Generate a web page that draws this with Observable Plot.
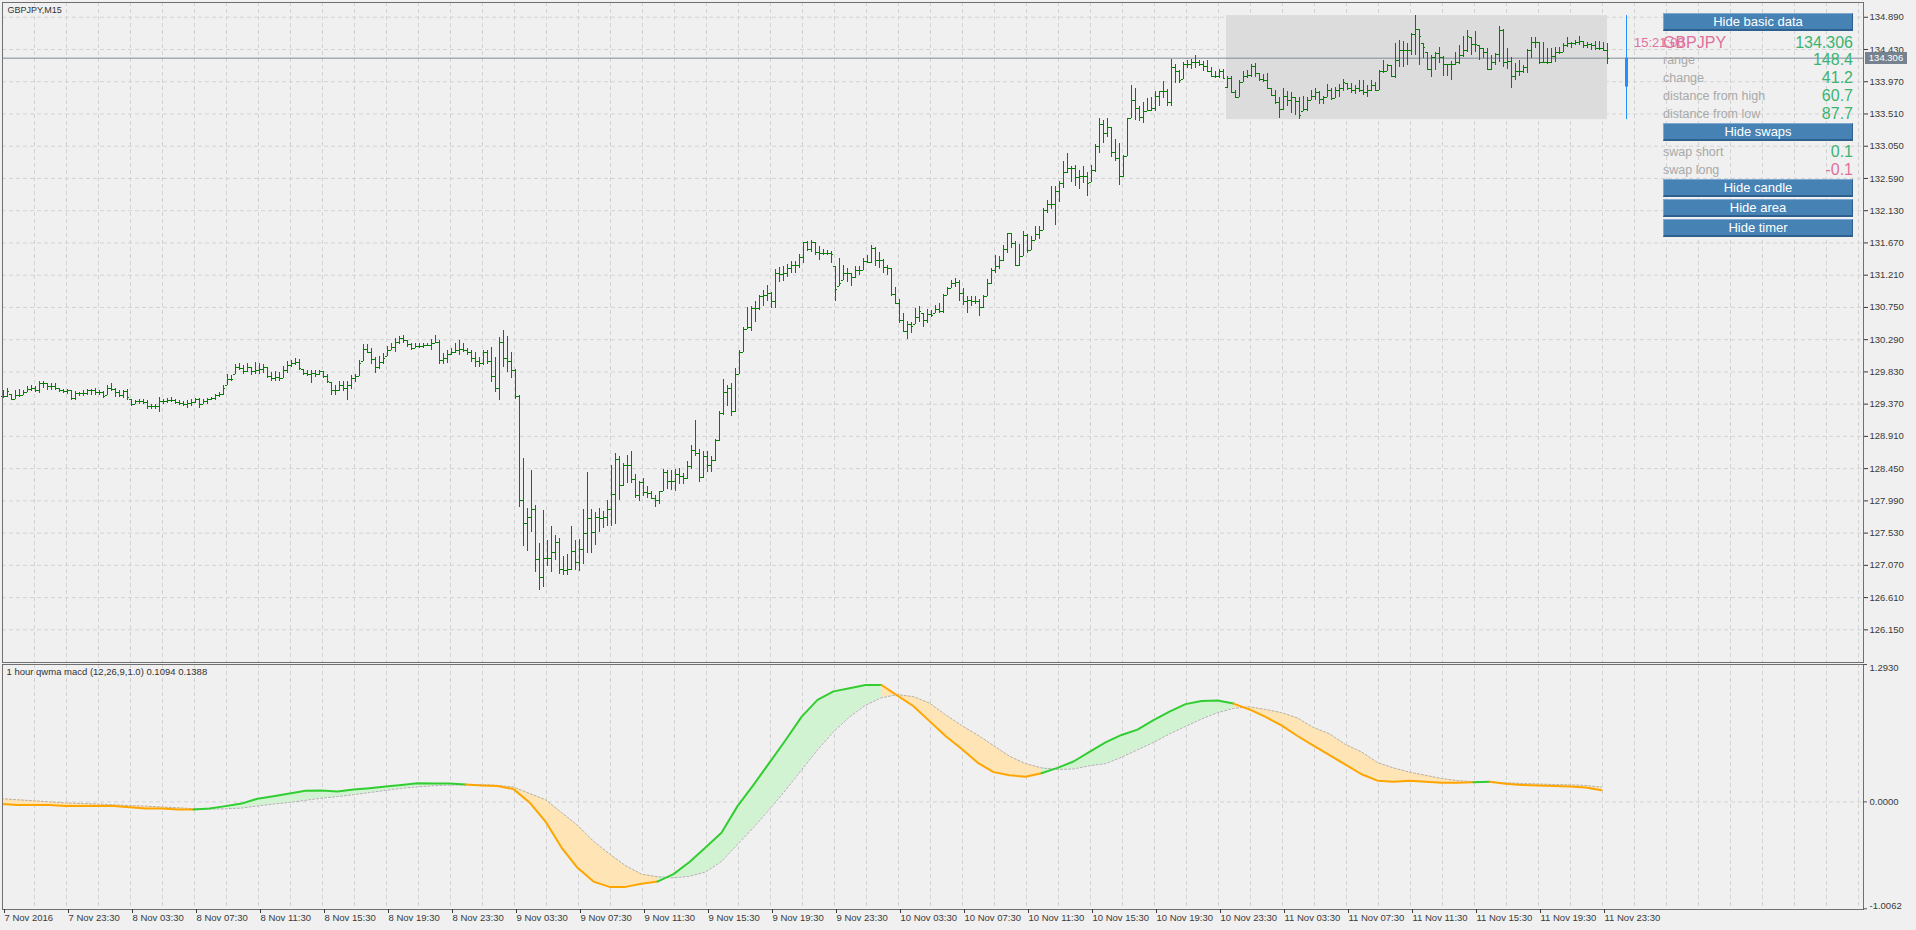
<!DOCTYPE html>
<html>
<head>
<meta charset="utf-8">
<script src="https://cdn.jsdelivr.net/npm/d3@7"></script>
<script src="https://cdn.jsdelivr.net/npm/@observablehq/plot@0.6"></script>
<style>
html,body{margin:0;padding:0;background:#f0f0f0;overflow:hidden;}
#wrap{position:relative;width:1916px;height:930px;font-family:"Liberation Sans",Arial,sans-serif;}
#wrap svg{position:absolute;left:0;top:0;}
.ov{position:absolute;white-space:nowrap;}
.btn{position:absolute;left:1663px;width:190px;height:18px;box-sizing:border-box;background:#4682b4;color:#fff;font-size:13px;line-height:15px;text-align:center;border-top:1px solid #7fa9d3;border-left:1px solid #7fa9d3;border-right:1px solid #2d5f8f;border-bottom:2px solid #2d5f8f;}
</style>
</head>
<body>
<div id="wrap"></div>
<script>
// ---------------- DATA ----------------
const symbol = "GBPJPY";
const timeframe = "M15";
const timerText = "15:21:00";

const opens = [
129.48,129.48,129.51,129.44,129.49,129.49,129.54,129.58,129.59,129.57,
129.66,129.67,129.62,129.62,129.60,129.56,129.55,129.56,129.45,129.52,
129.52,129.52,129.56,129.56,129.54,129.53,129.49,129.60,129.58,129.53,
129.50,129.55,129.44,129.37,129.41,129.41,129.40,129.34,129.33,129.34,
129.41,129.41,129.42,129.42,129.40,129.38,129.36,129.38,129.40,129.43,
129.37,129.41,129.43,129.45,129.49,129.51,129.63,129.72,129.80,129.90,
129.88,129.84,129.90,129.83,129.85,129.86,129.89,129.77,129.73,129.75,
129.74,129.85,129.92,129.95,129.97,129.87,129.81,129.80,129.81,129.80,
129.83,129.76,129.68,129.56,129.56,129.64,129.60,129.64,129.73,129.76,
129.98,130.15,130.11,130.00,129.90,129.97,130.05,130.14,130.18,130.25,
130.30,130.28,130.22,130.17,130.19,130.19,130.21,130.21,130.23,130.25,
129.99,130.02,130.08,130.10,130.13,130.15,130.14,130.11,130.02,129.98,
129.95,130.10,129.98,129.76,129.60,130.25,130.02,129.98,129.85,129.48,
128.00,127.67,127.75,127.87,127.15,126.89,127.17,127.17,127.25,127.40,
127.01,127.00,127.01,127.27,127.11,127.30,127.53,127.74,127.54,127.75,
127.74,127.75,127.86,128.08,128.58,128.21,128.49,128.49,128.30,128.06,
128.25,128.11,128.10,128.02,128.00,128.12,128.40,128.26,128.26,128.37,
128.34,128.31,128.48,128.71,128.66,128.32,128.63,128.50,128.57,128.85,
129.23,129.54,129.59,129.26,129.80,130.10,130.43,130.47,130.73,130.74,
130.91,130.92,130.95,130.83,131.24,131.22,131.24,131.30,131.35,131.35,
131.46,131.67,131.57,131.67,131.54,131.52,131.52,131.52,131.33,131.05,
131.14,131.24,131.23,131.18,131.28,131.28,131.41,131.39,131.59,131.42,
131.42,131.32,131.30,130.94,130.81,130.56,130.41,130.50,130.50,130.61,
130.67,130.57,130.65,130.67,130.72,130.69,130.92,131.02,131.09,131.11,
130.95,130.84,130.85,130.84,130.83,130.75,130.91,131.09,131.28,131.34,
131.42,131.57,131.80,131.66,131.35,131.48,131.78,131.56,131.71,131.79,
131.85,132.14,132.22,132.22,132.41,132.52,132.68,132.73,132.73,132.61,
132.62,132.62,132.53,132.71,133.05,133.36,133.23,133.32,132.96,132.87,
132.62,132.90,133.45,133.70,133.59,133.46,133.55,133.56,133.59,133.76,
133.83,133.83,133.68,134.18,134.11,134.00,134.21,134.22,134.25,134.25,
134.21,134.19,134.12,134.04,134.04,134.12,133.894,134.02,133.81,133.74,
133.96,134.04,134.06,134.19,134.09,134.00,133.99,133.88,133.77,133.68,
133.57,133.76,133.70,133.74,133.69,133.54,133.58,133.70,133.76,133.82,
133.71,133.74,133.84,133.73,133.85,133.87,133.95,133.87,133.85,133.87,
133.85,133.81,133.84,133.92,133.85,134.12,134.12,134.20,134.04,134.28,
134.42,134.42,134.42,134.64,134.71,134.52,134.39,134.15,134.31,134.37,
134.31,134.22,134.22,134.22,134.25,134.34,134.41,134.60,134.50,134.49,
134.45,134.39,134.15,134.25,134.36,134.70,134.25,134.26,134.04,134.11,
134.12,134.17,134.41,134.53,134.53,134.25,134.25,134.25,134.33,134.39,
134.39,134.49,134.51,134.51,134.53,134.55,134.49,134.50,134.49,134.44,
134.44,134.42];

const highs = [
129.57,129.60,129.51,129.57,129.58,129.56,129.62,129.63,129.62,129.69,
129.69,129.67,129.66,129.66,129.60,129.58,129.58,129.57,129.55,129.54,
129.56,129.58,129.58,129.59,129.57,129.55,129.63,129.66,129.60,129.57,
129.57,129.58,129.44,129.42,129.44,129.43,129.42,129.37,129.37,129.46,
129.44,129.45,129.46,129.44,129.42,129.41,129.42,129.43,129.45,129.45,
129.44,129.45,129.47,129.51,129.54,129.63,129.79,129.78,129.93,129.95,
129.92,129.95,129.90,129.97,129.95,129.93,129.90,129.82,129.84,129.82,
129.91,129.98,129.99,130.02,130.00,129.87,129.85,129.85,129.85,129.85,
129.84,129.79,129.68,129.63,129.70,129.70,129.70,129.78,129.79,129.99,
130.22,130.22,130.16,130.04,130.05,130.09,130.19,130.23,130.30,130.34,
130.35,130.28,130.24,130.24,130.23,130.24,130.24,130.29,130.35,130.28,
130.09,130.14,130.16,130.24,130.28,130.23,130.16,130.14,130.11,130.04,
130.14,130.13,130.18,130.03,130.32,130.42,130.33,130.10,129.87,129.50,
128.60,127.88,128.43,127.92,127.38,127.85,127.43,127.63,127.50,127.45,
127.20,127.22,127.62,127.43,127.44,127.86,128.40,127.86,127.82,127.88,
127.84,128.00,128.49,128.66,128.63,128.52,128.64,128.70,128.36,128.26,
128.31,128.19,128.13,128.07,128.13,128.44,128.43,128.42,128.44,128.45,
128.38,128.55,128.78,129.13,128.72,128.69,128.70,128.63,128.86,129.26,
129.72,129.64,129.67,129.88,130.14,130.46,130.75,130.76,130.83,130.92,
130.99,131.06,130.97,131.29,131.32,131.33,131.36,131.40,131.41,131.50,
131.68,131.69,131.70,131.67,131.62,131.58,131.56,131.55,131.33,131.45,
131.35,131.30,131.24,131.33,131.33,131.45,131.49,131.64,131.60,131.54,
131.43,131.35,131.30,131.03,130.86,130.66,130.55,130.54,130.73,130.76,
130.67,130.72,130.71,130.78,130.80,130.94,131.04,131.14,131.16,131.13,
131.02,130.91,130.90,130.91,130.86,130.92,131.15,131.30,131.49,131.48,
131.64,131.81,131.80,131.69,131.65,131.84,131.79,131.76,131.90,131.90,
132.16,132.28,132.47,132.48,132.54,132.83,132.95,132.76,132.78,132.70,
132.76,132.68,132.77,133.08,133.45,133.42,133.45,133.32,133.14,133.09,
132.92,133.45,133.91,133.87,133.62,133.68,133.73,133.75,133.83,133.83,
133.97,133.86,134.29,134.22,134.13,134.24,134.27,134.29,134.34,134.28,
134.26,134.27,134.17,134.12,134.15,134.15,134.04,134.04,133.84,133.99,
134.11,134.13,134.22,134.23,134.09,134.08,134.09,133.88,133.85,133.75,
133.88,133.83,133.82,133.75,133.75,133.76,133.74,133.84,133.87,133.83,
133.76,133.93,133.88,133.89,133.93,134.00,133.95,133.94,133.92,133.99,
133.99,133.92,133.99,133.96,134.13,134.27,134.22,134.20,134.51,134.56,
134.55,134.51,134.66,134.913,134.72,134.52,134.39,134.34,134.39,134.46,
134.33,134.22,134.26,134.39,134.49,134.61,134.70,134.60,134.68,134.49,
134.45,134.44,134.34,134.37,134.76,134.71,134.44,134.32,134.23,134.27,
134.20,134.43,134.60,134.60,134.53,134.53,134.44,134.44,134.46,134.46,
134.52,134.60,134.53,134.56,134.61,134.55,134.53,134.52,134.55,134.55,
134.53,134.52];

const lows = [
129.45,129.46,129.42,129.43,129.47,129.49,129.54,129.55,129.54,129.52,
129.60,129.56,129.56,129.57,129.54,129.52,129.51,129.42,129.42,129.48,
129.48,129.49,129.49,129.50,129.49,129.45,129.49,129.55,129.47,129.46,
129.45,129.42,129.33,129.37,129.37,129.36,129.30,129.30,129.29,129.25,
129.37,129.38,129.39,129.37,129.35,129.33,129.31,129.34,129.38,129.31,
129.37,129.37,129.42,129.42,129.46,129.49,129.63,129.70,129.80,129.85,
129.79,129.82,129.78,129.79,129.80,129.81,129.73,129.69,129.70,129.69,
129.74,129.81,129.90,129.92,129.85,129.78,129.76,129.66,129.75,129.78,
129.73,129.66,129.49,129.49,129.55,129.55,129.42,129.58,129.68,129.76,
129.98,130.09,129.94,129.81,129.87,129.94,130.05,130.14,130.10,130.22,
130.23,130.18,130.13,130.16,130.16,130.17,130.19,130.14,130.23,129.93,
129.93,129.95,130.06,130.09,130.06,130.11,130.06,129.97,129.90,129.90,
129.92,129.94,129.68,129.54,129.42,129.90,129.82,129.74,129.44,127.90,
127.34,127.27,127.54,126.97,126.71,126.75,127.06,126.97,127.14,126.94,
126.92,126.92,126.99,127.00,126.98,127.08,127.24,127.24,127.36,127.54,
127.60,127.62,127.63,127.65,127.99,128.20,128.24,128.24,128.02,127.98,
128.05,128.02,128.01,127.90,127.94,128.12,128.15,128.14,128.12,128.23,
128.23,128.30,128.44,128.63,128.25,128.31,128.39,128.40,128.55,128.83,
129.21,129.34,129.20,129.25,129.80,130.10,130.43,130.41,130.54,130.71,
130.76,130.83,130.74,130.74,131.10,131.12,131.17,131.23,131.24,131.30,
131.38,131.55,131.54,131.49,131.42,131.49,131.49,131.37,130.84,131.05,
131.14,131.10,131.05,131.16,131.21,131.27,131.38,131.38,131.34,131.31,
131.24,131.21,130.91,130.80,130.52,130.39,130.29,130.38,130.50,130.54,
130.46,130.52,130.61,130.67,130.67,130.67,130.92,131.02,131.03,130.83,
130.78,130.67,130.76,130.79,130.62,130.73,130.90,131.07,131.23,131.29,
131.41,131.52,131.59,131.35,131.33,131.48,131.52,131.56,131.71,131.72,
131.85,132.09,132.15,131.92,132.24,132.45,132.66,132.53,132.47,132.43,
132.52,132.33,132.53,132.68,132.95,133.09,133.18,132.89,132.83,132.49,
132.61,132.90,133.45,133.42,133.40,133.37,133.54,133.54,133.54,133.62,
133.73,133.62,133.61,133.95,133.94,134.00,134.16,134.14,134.16,134.19,
134.12,134.10,134.03,134.02,134.02,134.01,133.88,133.80,133.73,133.74,
133.96,134.02,134.03,134.03,133.98,133.96,133.87,133.76,133.65,133.44,
133.56,133.61,133.51,133.49,133.429,133.54,133.55,133.70,133.70,133.65,
133.64,133.74,133.70,133.73,133.75,133.83,133.84,133.80,133.79,133.82,
133.77,133.75,133.83,133.83,133.84,134.09,134.11,134.03,134.02,134.18,
134.18,134.20,134.34,134.34,134.20,134.30,134.13,134.03,134.13,134.23,
134.04,134.04,133.99,134.20,134.22,134.32,134.39,134.34,134.38,134.27,
134.30,134.14,134.13,134.20,134.25,134.18,134.15,133.87,133.99,134.04,
134.09,134.09,134.30,134.44,134.22,134.23,134.22,134.23,134.25,134.36,
134.39,134.46,134.45,134.49,134.49,134.45,134.44,134.42,134.42,134.42,
134.42,134.22];

const closes = [
129.48,129.55,129.44,129.49,129.49,129.53,129.58,129.59,129.57,129.66,
129.67,129.62,129.62,129.60,129.56,129.55,129.56,129.45,129.52,129.52,
129.52,129.56,129.56,129.54,129.53,129.48,129.60,129.58,129.53,129.50,
129.55,129.47,129.37,129.41,129.41,129.40,129.34,129.33,129.34,129.41,
129.41,129.42,129.42,129.40,129.38,129.36,129.38,129.40,129.43,129.36,
129.41,129.43,129.45,129.49,129.51,129.60,129.72,129.72,129.90,129.88,
129.84,129.90,129.83,129.85,129.86,129.89,129.77,129.73,129.75,129.74,
129.85,129.92,129.95,129.97,129.88,129.81,129.80,129.81,129.80,129.83,
129.76,129.70,129.56,129.56,129.64,129.60,129.64,129.73,129.76,129.95,
130.15,130.11,130.00,129.90,129.97,130.02,130.13,130.18,130.25,130.30,
130.28,130.22,130.17,130.19,130.19,130.21,130.21,130.23,130.25,129.99,
130.02,130.08,130.10,130.13,130.15,130.14,130.11,130.02,129.98,129.95,
130.10,129.98,129.76,129.60,130.25,130.02,129.98,129.85,129.48,128.00,
127.67,127.75,127.87,127.15,126.89,127.17,127.17,127.25,127.40,127.01,
127.00,127.01,127.27,127.11,127.30,127.53,127.74,127.54,127.75,127.74,
127.75,127.86,128.08,128.58,128.21,128.49,128.49,128.30,128.06,128.25,
128.11,128.10,128.02,128.00,128.12,128.40,128.26,128.26,128.37,128.34,
128.31,128.48,128.71,128.66,128.32,128.63,128.50,128.57,128.85,129.23,
129.54,129.59,129.26,129.80,130.10,130.43,130.47,130.73,130.74,130.91,
130.92,130.95,130.83,131.24,131.22,131.24,131.30,131.35,131.35,131.46,
131.67,131.57,131.67,131.54,131.52,131.52,131.52,131.51,131.00,131.09,
131.24,131.23,131.18,131.28,131.28,131.41,131.39,131.59,131.42,131.42,
131.32,131.30,130.94,130.81,130.56,130.41,130.50,130.48,130.61,130.69,
130.57,130.65,130.64,130.72,130.69,130.92,131.02,131.09,131.11,130.95,
130.84,130.85,130.84,130.83,130.75,130.91,131.09,131.28,131.34,131.42,
131.57,131.80,131.66,131.35,131.47,131.78,131.56,131.71,131.79,131.85,
132.14,132.22,132.22,132.41,132.52,132.68,132.73,132.73,132.61,132.62,
132.62,132.52,132.71,133.05,133.36,133.23,133.32,132.96,132.87,132.62,
132.90,133.44,133.70,133.59,133.46,133.55,133.56,133.59,133.76,133.83,
133.83,133.68,134.18,134.11,133.99,134.21,134.22,134.25,134.25,134.21,
134.19,134.12,134.04,134.04,134.12,134.01,134.02,133.81,133.74,133.96,
134.04,134.06,134.19,134.09,134.00,133.99,133.88,133.77,133.68,133.57,
133.76,133.70,133.74,133.69,133.49,133.58,133.70,133.76,133.82,133.71,
133.74,133.84,133.73,133.85,133.87,133.96,133.87,133.85,133.87,133.85,
133.81,133.84,133.92,133.85,134.12,134.12,134.20,134.04,134.28,134.42,
134.42,134.42,134.64,134.71,134.61,134.46,134.15,134.31,134.37,134.31,
134.22,134.22,134.22,134.25,134.34,134.41,134.61,134.50,134.50,134.45,
134.39,134.15,134.25,134.36,134.70,134.25,134.26,134.04,134.11,134.12,
134.17,134.41,134.53,134.53,134.25,134.25,134.25,134.33,134.39,134.39,
134.49,134.51,134.51,134.53,134.55,134.49,134.50,134.49,134.44,134.44,
134.42,134.306];

const timeLabels = ["7 Nov 2016","7 Nov 23:30","8 Nov 03:30","8 Nov 07:30","8 Nov 11:30","8 Nov 15:30",
"8 Nov 19:30","8 Nov 23:30","9 Nov 03:30","9 Nov 07:30","9 Nov 11:30","9 Nov 15:30","9 Nov 19:30",
"9 Nov 23:30","10 Nov 03:30","10 Nov 07:30","10 Nov 11:30","10 Nov 15:30","10 Nov 19:30","10 Nov 23:30",
"11 Nov 03:30","11 Nov 07:30","11 Nov 11:30","11 Nov 15:30","11 Nov 19:30","11 Nov 23:30"];

const priceTicks = [126.15,126.61,127.07,127.53,127.99,128.45,128.91,129.37,129.83,130.29,
130.75,131.21,131.67,132.13,132.59,133.05,133.51,133.97,134.43,134.89];

// 1-hour MACD values (one per hour, from 7 Nov 19:00 to 11 Nov 23:00)
const macdMain = [
-0.02,-0.03,-0.03,-0.03,-0.038,-0.038,-0.038,-0.038,-0.05,-0.063,
-0.063,-0.072,-0.072,-0.063,-0.04,-0.016,0.03,0.053,0.079,0.104,
0.107,0.097,0.116,0.129,0.145,0.16,0.176,0.173,0.173,0.164,
0.154,0.15,0.12,-0.005,-0.185,-0.43,-0.62,-0.75,-0.80,-0.80,
-0.77,-0.75,-0.68,-0.565,-0.43,-0.29,-0.04,0.16,0.37,0.58,
0.80,0.96,1.04,1.07,1.10,1.10,1.00,0.90,0.76,0.62,
0.50,0.37,0.28,0.25,0.236,0.27,0.32,0.38,0.47,0.56,
0.63,0.68,0.77,0.85,0.92,0.95,0.955,0.925,0.87,0.80,
0.72,0.62,0.53,0.44,0.35,0.26,0.20,0.19,0.20,0.19,
0.18,0.18,0.185,0.19,0.17,0.16,0.155,0.15,0.145,0.135,
0.1094];
const macdSignal = [
0.03,0.02,0.01,0.0,-0.01,-0.015,-0.02,-0.028,-0.035,-0.04,
-0.048,-0.055,-0.065,-0.068,-0.065,-0.058,-0.038,-0.02,-0.005,0.015,
0.035,0.05,0.068,0.088,0.108,0.128,0.142,0.152,0.158,0.160,
0.163,0.155,0.14,0.08,0.02,-0.10,-0.22,-0.37,-0.49,-0.60,
-0.68,-0.705,-0.715,-0.70,-0.66,-0.56,-0.40,-0.24,-0.07,0.11,
0.30,0.49,0.66,0.80,0.91,0.98,1.01,0.99,0.93,0.82,
0.72,0.63,0.53,0.43,0.36,0.32,0.305,0.31,0.34,0.36,
0.42,0.49,0.56,0.64,0.71,0.78,0.84,0.88,0.895,0.87,
0.84,0.79,0.70,0.64,0.54,0.47,0.37,0.32,0.28,0.25,
0.22,0.20,0.19,0.186,0.18,0.173,0.168,0.163,0.16,0.155,
0.1388];
const macdTicks = [1.293, 0, -1.0062];
const macdName = "1 hour qwma macd (12,26,9,1.0)";

const dayStartBar = 306;      // first M15 bar of 11 Nov
const swapShort = 0.1, swapLong = -0.1;

// ---------------- DERIVED ----------------
const bars = closes.map((c, i) => ({i, open: opens[i], high: highs[i], low: lows[i], close: c}));
const last = bars[bars.length - 1];
const dayBars = bars.slice(dayStartBar);
const dayHigh = d3.max(dayBars, d => d.high);
const dayLow = d3.min(dayBars, d => d.low);
const dayOpen = dayBars[0].open;

const GREEN = "#008000";
const GRID = "#d3d3d3";
const DASH = "4,3";
const FONT = "'Liberation Sans', Arial, sans-serif";
const gridBars = d3.range(8, 465, 8);
const tickBars = timeLabels.map((_, k) => k * 16);
const labelOf = new Map(tickBars.map((b, k) => [b, timeLabels[k]]));

const hours = macdMain.map((m, h) => ({h, x: h * 4 - 0.5, main: m, signal: macdSignal[h]}));
const segUp = hours.slice(1).map(d => d.main >= d.signal);
const runs = [];
segUp.forEach((up, k) => {
  if (k === 0 || up !== segUp[k - 1]) runs.push({up, start: k, end: k + 1});
  else runs[runs.length - 1].end = k + 1;
});
const runPts = runs.flatMap((r, ri) => hours.slice(r.start, r.end + 1).map(d => ({...d, run: ri, up: r.up})));

const common = {
  width: 1916, height: 930, marginLeft: 2, marginRight: 53,
  style: {background: "none", fontFamily: FONT, color: "#3a3a3a", overflow: "visible"}
};

// ---------------- PRICE PANEL ----------------
const price = Plot.plot({
  ...common, marginTop: 2, marginBottom: 268,
  x: {domain: [-0.25, 465], axis: null},
  y: {domain: [125.684, 135.1005]},
  marks: [
    Plot.ruleX(gridBars, {x: d => d, dx: -1, stroke: GRID, strokeDasharray: DASH}),
    Plot.ruleY(priceTicks, {y: d => d, stroke: GRID, strokeDasharray: DASH}),
    Plot.rect([{a: dayStartBar, b: last.i, lo: dayLow, hi: dayHigh}],
      {x1: "a", x2: "b", y1: "lo", y2: "hi", insetLeft: -1, fill: "#dcdcdc"}),
    Plot.ruleY([last.close], {y: d => d, stroke: "#7e8a97"}),
    Plot.ruleX(bars, {x: "i", y1: "low", y2: "high", stroke: GREEN, shapeRendering: "crispEdges"}),
    Plot.ruleY(bars, {y: "open", x1: "i", x2: "i", insetLeft: -2, stroke: GREEN, shapeRendering: "crispEdges"}),
    Plot.ruleY(bars, {y: "close", x1: "i", x2: "i", insetRight: -2, stroke: GREEN, shapeRendering: "crispEdges"}),
    Plot.ruleX([{x: last.i, lo: dayLow, hi: dayHigh}], {x: "x", y1: "lo", y2: "hi", dx: 19, stroke: "#1e90ff"}),
    Plot.ruleX([{x: last.i, o: dayOpen, c: last.close}], {x: "x", y1: "o", y2: "c", dx: 19, stroke: "#1e90ff", strokeWidth: 3}),
    Plot.frame({stroke: "#707070"}),
    Plot.axisY(priceTicks, {anchor: "right", tickSize: 4, tickPadding: 2, tickFormat: d => d.toFixed(3),
      fontSize: 9.5, label: null, color: "#3a3a3a"}),
    Plot.text([`${symbol},${timeframe}`], {text: d => d, frameAnchor: "top-left", dx: 5, dy: 4,
      lineAnchor: "top", textAnchor: "start", fontSize: 9, fill: "#333"})
  ]
});

// ---------------- MACD PANEL ----------------
const macd = Plot.plot({
  ...common, marginTop: 664, marginBottom: 21,
  x: {domain: [-0.25, 465]},
  y: {domain: [-1.0128, 1.293], axis: null},
  color: {type: "identity"},
  marks: [
    Plot.ruleX(gridBars, {x: d => d, dx: -1, stroke: GRID, strokeDasharray: DASH}),
    Plot.ruleY([0], {y: d => d, stroke: GRID, strokeDasharray: DASH}),
    Plot.areaY(runPts, {x: "x", y1: "main", y2: "signal", z: "run",
      fill: d => d.up ? "#d2f3d2" : "#ffe4b5", clip: true}),
    Plot.line(hours, {x: "x", y: "signal", stroke: "#b0b0b0", strokeDasharray: "2,2", strokeWidth: 1, clip: true}),
    Plot.line(runPts, {x: "x", y: "main", z: "run", stroke: d => d.up ? "#32cd32" : "#ffa500",
      strokeWidth: 2, clip: true}),
    Plot.frame({stroke: "#707070"}),
    Plot.axisX(tickBars, {anchor: "bottom", tickSize: 4, tickPadding: 1, tickFormat: d => labelOf.get(d),
      textAnchor: "start", dx: 1, fontSize: 9.5, label: null, color: "#3a3a3a"}),
    Plot.ruleY(macdTicks, {y: d => d, x1: 465, x2: 465, insetRight: -4, stroke: "#555"}),
    Plot.text([macdTicks[0]], {y: d => d, text: d => d.toFixed(4), frameAnchor: "right", dx: 6,
      textAnchor: "start", lineAnchor: "top", fontSize: 9.5, fill: "#3a3a3a"}),
    Plot.text([macdTicks[1]], {y: d => d, text: d => d.toFixed(4), frameAnchor: "right", dx: 6,
      textAnchor: "start", lineAnchor: "middle", fontSize: 9.5, fill: "#3a3a3a"}),
    Plot.text([macdTicks[2]], {y: d => d, text: d => d.toFixed(4), frameAnchor: "right", dx: 6,
      textAnchor: "start", lineAnchor: "bottom", fontSize: 9.5, fill: "#3a3a3a"}),
    Plot.text([`${macdName} ${macdMain[macdMain.length - 1].toFixed(4)} ${macdSignal[macdSignal.length - 1].toFixed(4)}`],
      {text: d => d, frameAnchor: "top-left", dx: 4, dy: 4, lineAnchor: "top", textAnchor: "start",
       fontSize: 9.5, fill: "#333"})
  ]
});

const wrap = document.getElementById("wrap");
wrap.appendChild(price);
wrap.appendChild(macd);

// ---------------- OVERLAYS (price tag, timer, info panel) ----------------
function ov(text, css) {
  const d = document.createElement("div");
  d.className = "ov";
  d.textContent = text;
  Object.assign(d.style, css);
  wrap.appendChild(d);
  return d;
}
const yLast = price.scale("y").apply(last.close);
ov(last.close.toFixed(3), {left: "1865px", top: (yLast - 6) + "px", width: "42px", height: "12px",
  lineHeight: "12px", background: "#76828f", color: "#fff", fontSize: "9.5px", textAlign: "center"});

const PINK = "#e0709b", VGREEN = "#3cb371", LGRAY = "#a9a9a9";
ov(timerText, {left: "1634px", top: "35px", fontSize: "13px", lineHeight: "16px", color: PINK});

function btn(text, top) {
  const d = document.createElement("div");
  d.className = "btn";
  d.textContent = text;
  d.style.top = top + "px";
  wrap.appendChild(d);
}
function row(label, value, cy, labelColor, labelSize, valueColor) {
  ov(label, {left: "1663px", top: (cy - 10) + "px", lineHeight: "20px", fontSize: labelSize + "px", color: labelColor});
  ov(value, {right: (1916 - 1853) + "px", top: (cy - 10) + "px", lineHeight: "20px", fontSize: "16px", color: valueColor});
}
btn("Hide basic data", 13);
row(symbol, last.close.toFixed(3), 43, PINK, 16, VGREEN);
row("range", ((dayHigh - dayLow) * 100).toFixed(1), 60, LGRAY, 12.5, VGREEN);
row("change", ((last.close - dayOpen) * 100).toFixed(1), 78, LGRAY, 12.5, VGREEN);
row("distance from high", ((dayHigh - last.close) * 100).toFixed(1), 96, LGRAY, 12.5, VGREEN);
row("distance from low", ((last.close - dayLow) * 100).toFixed(1), 113.5, LGRAY, 12.5, VGREEN);
btn("Hide swaps", 123);
row("swap short", swapShort.toFixed(1), 152, LGRAY, 12.5, swapShort < 0 ? PINK : VGREEN);
row("swap long", swapLong.toFixed(1), 170, LGRAY, 12.5, swapLong < 0 ? PINK : VGREEN);
btn("Hide candle", 179);
btn("Hide area", 199);
btn("Hide timer", 219);
</script>
</body>
</html>
